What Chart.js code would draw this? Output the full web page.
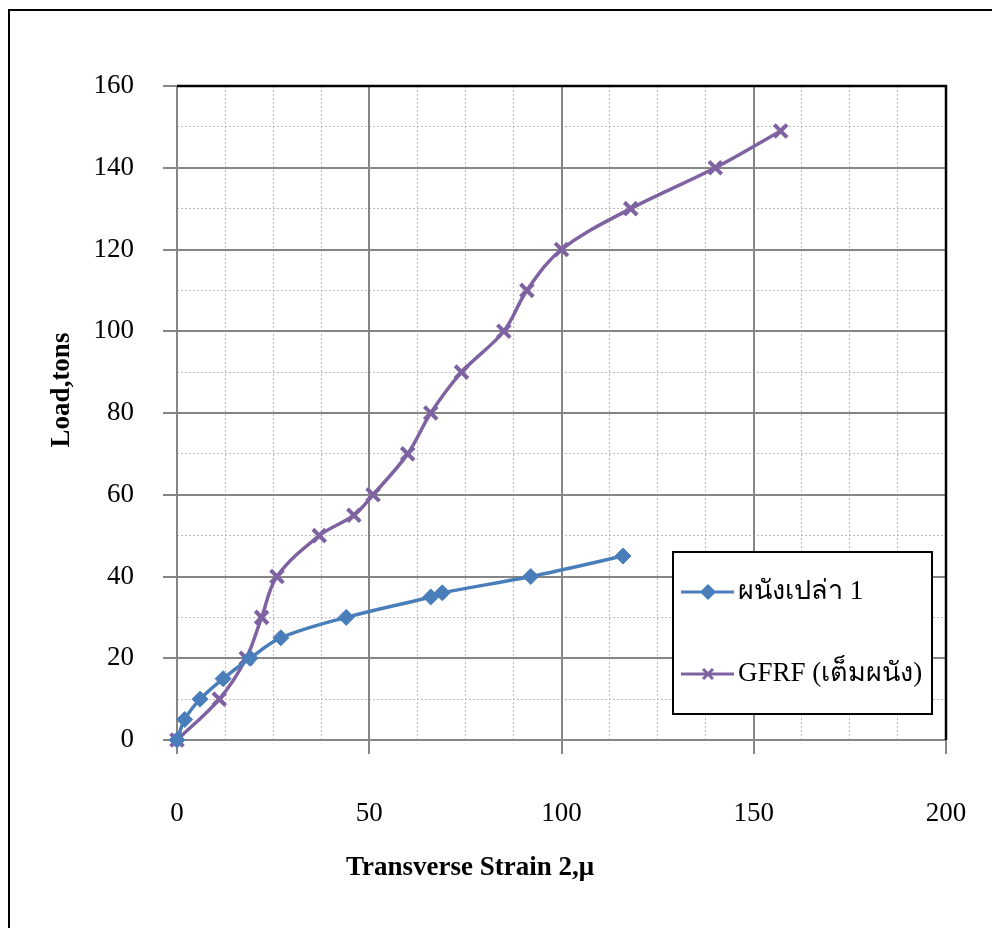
<!DOCTYPE html>
<html>
<head>
<meta charset="utf-8">
<script src="https://cdn.jsdelivr.net/npm/chart.js@4/dist/chart.umd.min.js"></script>
<style>
  html, body { margin: 0; padding: 0; background: #fff; }
  #wrap { width: 992px; height: 928px; position: relative; }
</style>
</head>
<body>
<div id="wrap"><canvas id="chart" width="992" height="928"></canvas></div>
<script>
// data
const plainX = [0, 2, 6, 12, 19, 27, 44, 66, 69, 92, 116];
const plainY = [0, 5, 10, 15, 20, 25, 30, 35, 36, 40, 45];
const gfrfX = [0, 11, 18, 22, 26, 37, 46, 51, 60, 66, 74, 85, 91, 100, 118, 140, 157];
const gfrfY = [0, 10, 20, 30, 40, 50, 55, 60, 70, 80, 90, 100, 110, 120, 130, 140, 149];
const seriesNames = ['ผนังเปล่า 1', 'GFRF (เต็มผนัง)'];
const xTitle = 'Transverse Strain 2,μ';
const yTitle = 'Load,tons';

const FONT = '"Liberation Serif", "Times New Roman", "DejaVu Serif", serif';
const BLUE = '#4a7ebb';
const PURPLE = '#7e62a1';
const MAJOR = '#868686';
const MINOR = '#bcbcbc';

const toPoints = (xs, ys) => xs.map((x, i) => ({ x: x, y: ys[i] }));

// frame, plot border, axis titles and legend
const decorations = {
  id: 'decorations',
  afterDraw(chart) {
    const { ctx, chartArea } = chart;
    ctx.save();
    // outer frame
    ctx.strokeStyle = '#000';
    ctx.lineWidth = 2;
    ctx.beginPath();
    ctx.moveTo(9, 940);
    ctx.lineTo(9, 10);
    ctx.lineTo(1000, 10);
    ctx.stroke();
    // top and right edges of plot area
    ctx.lineWidth = 2.5;
    ctx.beginPath();
    ctx.moveTo(chartArea.left, chartArea.top);
    ctx.lineTo(chartArea.right, chartArea.top);
    ctx.lineTo(chartArea.right, chartArea.bottom);
    ctx.stroke();

    // axis titles
    ctx.fillStyle = '#000';
    ctx.font = 'bold 27px ' + FONT;
    ctx.textAlign = 'center';
    ctx.textBaseline = 'middle';
    ctx.fillText(xTitle, 470, 868);
    ctx.translate(62, 390);
    ctx.rotate(-Math.PI / 2);
    ctx.fillText(yTitle, 0, 0);
    ctx.setTransform(1, 0, 0, 1, 0, 0);

    // legend box
    ctx.fillStyle = '#fff';
    ctx.fillRect(673, 552, 259, 162);
    ctx.strokeStyle = '#000';
    ctx.lineWidth = 2;
    ctx.strokeRect(673, 552, 259, 162);
    const rows = [592, 674];
    chart.data.datasets.forEach((ds, i) => {
      const y = rows[i];
      ctx.strokeStyle = ds.borderColor;
      ctx.fillStyle = ds.borderColor;
      ctx.lineWidth = 3;
      ctx.beginPath();
      ctx.moveTo(681, y);
      ctx.lineTo(734, y);
      ctx.stroke();
      Chart.helpers.drawPoint(ctx, {
        pointStyle: ds.pointStyle, radius: ds.pointRadius - 2, borderWidth: ds.pointBorderWidth
      }, 708, y);
      ctx.fillStyle = '#000';
      ctx.font = '27px ' + FONT;
      ctx.textAlign = 'left';
      ctx.textBaseline = 'middle';
      ctx.fillText(ds.label, 738, y);
    });
    ctx.restore();
  }
};

const isMajor = (v, step) => Math.abs(v / step - Math.round(v / step)) < 1e-6;

// main axes: solid major grid + labels
const majorAxis = (max, step, extra) => Object.assign({
  type: 'linear',
  min: 0,
  max: max,
  ticks: {
    stepSize: step,
    autoSkip: false,
    maxRotation: 0,
    color: '#000',
    font: { family: FONT, size: 27 }
  },
  grid: { color: MAJOR, lineWidth: 2, tickColor: MAJOR, tickLength: 14, tickWidth: 2 },
  border: { color: MAJOR, width: 2 }
}, extra);

// minor axes: dotted grid only
const minorAxis = (max, step, major, position, fit) => ({
  type: 'linear',
  position: position,
  min: 0,
  max: max,
  afterFit: fit,
  ticks: { display: false, stepSize: step, autoSkip: false },
  grid: {
    drawTicks: false,
    lineWidth: 1,
    color: (c) => isMajor(c.tick.value, major) ? 'rgba(0,0,0,0)' : MINOR
  },
  border: { display: false, dash: [2, 2] }
});

const xMain = majorAxis(200, 50, {
  afterFit: (s) => { s.height = 188; s.paddingLeft = 0; s.paddingRight = 0; }
});
xMain.ticks.padding = 44;
const yMain = majorAxis(160, 20, {
  afterFit: (s) => { s.width = 177; s.paddingTop = 0; s.paddingBottom = 0; }
});
yMain.ticks.padding = 29;

new Chart(document.getElementById('chart'), {
  type: 'scatter',
  data: {
    datasets: [
      {
        label: seriesNames[0],
        data: toPoints(plainX, plainY),
        showLine: true,
        borderColor: BLUE,
        backgroundColor: BLUE,
        borderWidth: 3.5,
        pointStyle: 'rectRot',
        pointRadius: 8,
        pointBorderWidth: 1,
        pointBackgroundColor: BLUE,
        pointBorderColor: BLUE,
        tension: 0.35,
        clip: false
      },
      {
        label: seriesNames[1],
        data: toPoints(gfrfX, gfrfY),
        showLine: true,
        borderColor: PURPLE,
        backgroundColor: PURPLE,
        borderWidth: 3.5,
        pointStyle: 'crossRot',
        pointRadius: 9,
        pointBorderWidth: 4,
        pointBorderColor: PURPLE,
        tension: 0.35,
        clip: false
      }
    ]
  },
  options: {
    responsive: false,
    animation: false,
    events: [],
    layout: { padding: { top: 86, right: 46, left: 0, bottom: 0 } },
    plugins: { legend: { display: false }, tooltip: { enabled: false } },
    scales: {
      xMinor: minorAxis(200, 12.5, 50, 'bottom', (s) => { s.height = 0; s.paddingLeft = 0; s.paddingRight = 0; }),
      yMinor: minorAxis(160, 10, 20, 'left', (s) => { s.width = 0; s.paddingTop = 0; s.paddingBottom = 0; }),
      x: xMain,
      y: yMain
    }
  },
  plugins: [decorations]
});
</script>
</body>
</html>
